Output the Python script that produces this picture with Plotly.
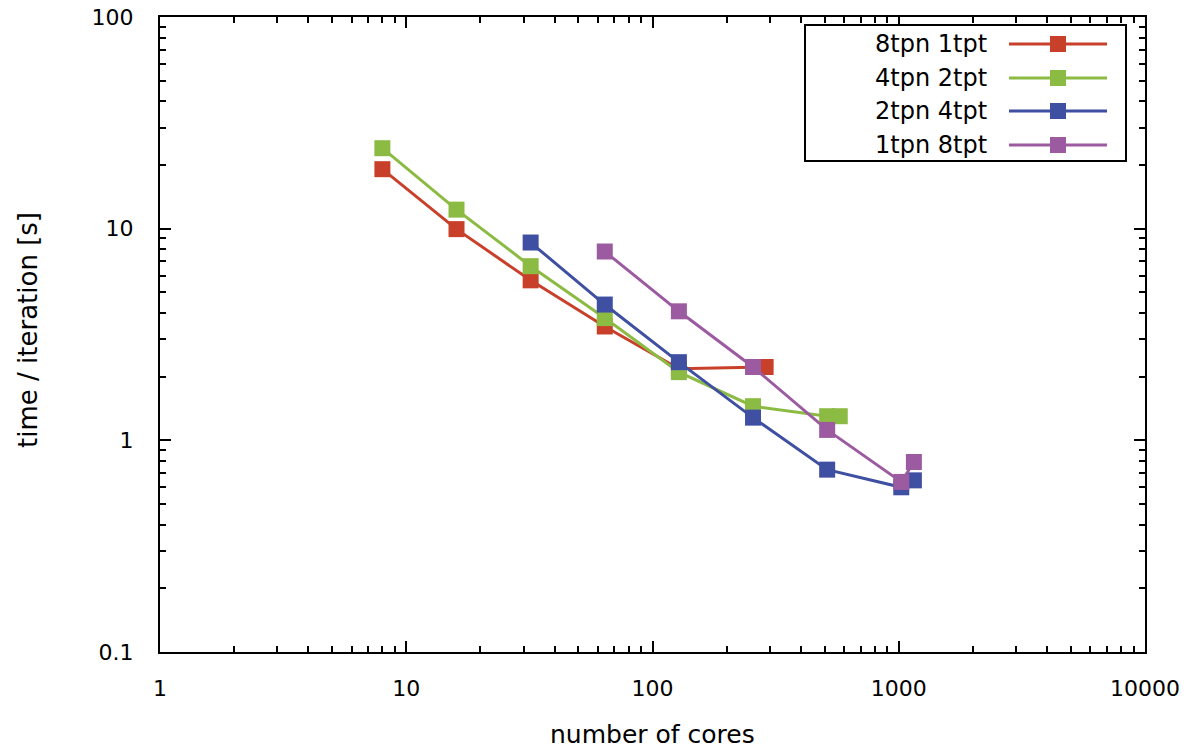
import plotly.graph_objects as go

# ---- data ----
names = ["8tpn 1tpt", "4tpn 2tpt", "2tpn 4tpt", "1tpn 8tpt"]
x_red = [8, 16, 32, 64, 128, 288]
y_red = [19.1, 9.95, 5.7, 3.45, 2.18, 2.22]
x_green = [8, 16, 32, 64, 128, 256, 512, 576]
y_green = [24.0, 12.3, 6.65, 3.78, 2.10, 1.45, 1.30, 1.30]
x_blue = [32, 64, 128, 256, 512, 1024, 1152]
y_blue = [8.6, 4.38, 2.34, 1.28, 0.727, 0.60, 0.647]
x_purple = [64, 128, 256, 512, 1024, 1152]
y_purple = [7.8, 4.07, 2.22, 1.12, 0.636, 0.79]
colors = ["#C9402A", "#8CBB43", "#3F4FA1", "#9C5BA0"]
xs = [x_red, x_green, x_blue, x_purple]
ys = [y_red, y_green, y_blue, y_purple]
x_ticks = [1, 10, 100, 1000, 10000]
x_ticktext = ["1", "10", "100", "1000", "10000"]
y_ticks = [0.1, 1, 10, 100]
y_ticktext = ["0.1", "1", "10", "100"]
x_title = "number of cores"
y_title = "time / iteration [s]"

W, H = 1195, 751
L, R, T, B = 160, 1145, 17, 652

x_minor = [m * d for d in [1, 10, 100, 1000] for m in range(2, 10)]
y_minor = [m * d for d in [0.1, 1, 10] for m in range(2, 10)]

FONT = "DejaVu Sans"

fig = go.Figure()
for n, c, x, y in zip(names, colors, xs, ys):
    fig.add_trace(go.Scatter(x=x, y=y, name=n, mode="lines+markers",
                             line=dict(color=c, width=3),
                             marker=dict(symbol="square", size=16, color=c,
                                         line=dict(width=0)),
                             showlegend=False))

def px(xp):  # page pixel -> paper fraction
    return (xp - L) / (R - L)

def py(yp):
    return (B - yp) / (B - T)

shapes = []
annotations = []
# legend box
shapes.append(dict(type="rect", xref="paper", yref="paper",
                   x0=px(805), x1=px(1126), y0=py(161), y1=py(25),
                   line=dict(color="black", width=2), fillcolor="white", layer="above"))
rows = [44, 78, 111, 145]
for n, c, ry in zip(names, colors, rows):
    shapes.append(dict(type="line", xref="paper", yref="paper",
                       x0=px(1009), x1=px(1107), y0=py(ry), y1=py(ry),
                       line=dict(color=c, width=3), layer="above"))
    shapes.append(dict(type="rect", xref="paper", yref="paper",
                       x0=px(1050), x1=px(1066), y0=py(ry + 8), y1=py(ry - 8),
                       line=dict(width=0), fillcolor=c, layer="above"))
    annotations.append(dict(xref="paper", yref="paper", x=px(989), y=py(ry),
                            text=n, showarrow=False, xanchor="right", yanchor="middle",
                            font=dict(family=FONT, size=24, color="black")))

# axis titles
annotations.append(dict(xref="paper", yref="paper", x=0.5, y=py(734), text=x_title,
                        showarrow=False, xanchor="center", yanchor="middle",
                        font=dict(family=FONT, size=25, color="black")))
annotations.append(dict(xref="paper", yref="paper", x=px(28), y=py(330), text=y_title,
                        showarrow=False, xanchor="center", yanchor="middle", textangle=-90,
                        font=dict(family=FONT, size=26, color="black")))

fig.update_layout(
    width=W, height=H,
    margin=dict(l=L, r=W - R, t=T, b=H - B, autoexpand=False),
    plot_bgcolor="white", paper_bgcolor="white",
    shapes=shapes, annotations=annotations,
    font=dict(family=FONT, color="black"),
)
fig.update_xaxes(type="log", range=[0, 4], tickvals=x_ticks, ticktext=x_ticktext,
                 ticks="inside", ticklen=11, tickwidth=1.5, tickcolor="black",
                 minor=dict(tickvals=x_minor, ticks="inside", ticklen=6, tickwidth=1.5,
                            tickcolor="black", showgrid=False),
                 showline=True, linecolor="black", linewidth=2, mirror="allticks",
                 showgrid=False, zeroline=False, automargin=False,
                 ticklabeloverflow="allow",
                 tickfont=dict(family=FONT, size=22),
                 ticklabelstandoff=16)
fig.update_yaxes(type="log", range=[-1, 2], tickvals=y_ticks, ticktext=y_ticktext,
                 ticks="inside", ticklen=11, tickwidth=1.5, tickcolor="black",
                 minor=dict(tickvals=y_minor, ticks="inside", ticklen=6, tickwidth=1.5,
                            tickcolor="black", showgrid=False),
                 showline=True, linecolor="black", linewidth=2, mirror="allticks",
                 showgrid=False, zeroline=False, automargin=False,
                 ticklabeloverflow="allow",
                 tickfont=dict(family=FONT, size=22),
                 ticklabelstandoff=20)

fig.write_html("out.html", config={"displayModeBar": False},
               post_script="document.body.style.margin='0';document.body.style.overflow='hidden';")
